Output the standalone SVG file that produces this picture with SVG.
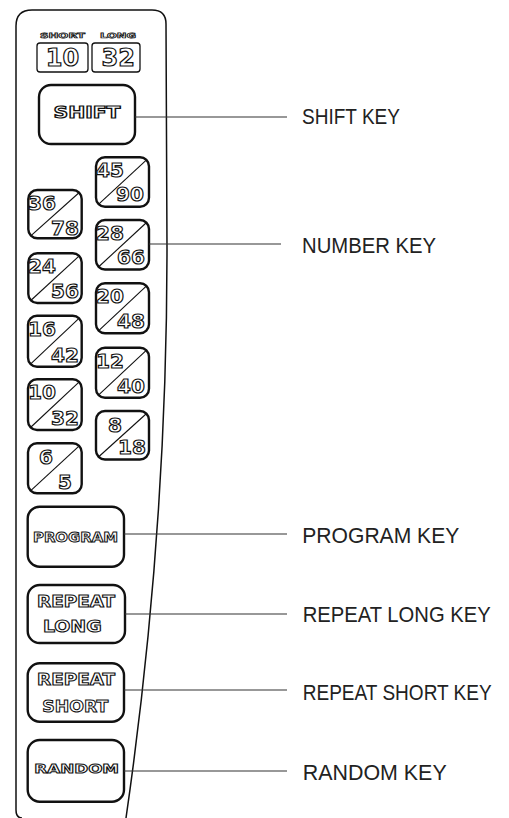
<svg xmlns="http://www.w3.org/2000/svg" width="509" height="818" viewBox="0 0 509 818">
  <style>
    .panel { fill: none; stroke: #111; stroke-width: 1.5; }
    .key { fill: #fff; stroke: #111; stroke-width: 2.4; }
    .box { fill: #fff; stroke: #111; stroke-width: 1.3; }
    .diag { stroke: #111; stroke-width: 1.1; }
    .glyph { font-family: "DejaVu Sans", "Liberation Sans", sans-serif; font-weight: bold; fill: #fff; stroke: #111; stroke-width: 1.2; text-anchor: middle; }
    .num { font-size: 20px; }
    .cap { font-size: 15px; stroke-width: 1; }
    .tiny { font-size: 7px; stroke-width: 0.7; }
    .big { font-size: 24px; stroke-width: 1.2; }
    .lead { stroke: #333; stroke-width: 1.2; fill: none; }
    .label { font-family: "Liberation Sans", Arial, sans-serif; font-size: 19px; fill: #222; }
  </style>

  <rect width="509" height="818" fill="#fff"/>

  <!-- remote control body -->
  <path class="panel" d="M22,818 Q16,818 16,810 L16,26 Q16,10 32,10 L152,10 Q166,10 166,24 L167,250 Q167,534 126,818"/>

  <!-- counter display -->
  <g id="display">
    <text class="glyph tiny" x="62.5" y="37.7" textLength="45" lengthAdjust="spacingAndGlyphs">SHORT</text>
    <text class="glyph tiny" x="118" y="37.7" textLength="36" lengthAdjust="spacingAndGlyphs">LONG</text>
    <rect class="box" x="37" y="43" width="51" height="29" rx="3"/>
    <rect class="box" x="92" y="43" width="48" height="29" rx="3"/>
    <text class="glyph big" x="62.5" y="66">10</text>
    <text class="glyph big" x="118.3" y="66">32</text>
  </g>

  <!-- shift key -->
  <g id="shift-key">
    <rect class="key" x="39" y="85" width="96" height="59" rx="12"/>
    <text class="glyph" style="font-size:16px" x="87" y="118.3" textLength="67" lengthAdjust="spacingAndGlyphs">SHIFT</text>
  </g>

  <!-- number keys, right column -->
  <g id="key-45-90">
    <rect class="key" x="96" y="157.3" width="53" height="49.5" rx="9"/>
    <line class="diag" x1="99" y1="203.8" x2="146" y2="160.3"/>
    <text class="glyph num" x="110" y="176.5">45</text>
    <text class="glyph num" x="130" y="200.5">90</text>
  </g>
  <g id="key-28-66">
    <rect class="key" x="96" y="220" width="53" height="49.5" rx="9"/>
    <line class="diag" x1="99" y1="266.5" x2="146" y2="223"/>
    <text class="glyph num" x="110" y="239.5">28</text>
    <text class="glyph num" x="131" y="264">66</text>
  </g>
  <g id="key-20-48">
    <rect class="key" x="96" y="283.3" width="53" height="50" rx="9"/>
    <line class="diag" x1="99" y1="330.3" x2="146" y2="286.3"/>
    <text class="glyph num" x="110" y="303">20</text>
    <text class="glyph num" x="131" y="328">48</text>
  </g>
  <g id="key-12-40">
    <rect class="key" x="96" y="347.7" width="53" height="50" rx="9"/>
    <line class="diag" x1="99" y1="394.7" x2="146" y2="350.7"/>
    <text class="glyph num" x="110" y="367.5">12</text>
    <text class="glyph num" x="131" y="392.5">40</text>
  </g>
  <g id="key-8-18">
    <rect class="key" x="96" y="411" width="53" height="48.5" rx="9"/>
    <line class="diag" x1="99" y1="456.5" x2="146" y2="414"/>
    <text class="glyph num" x="115" y="431.5">8</text>
    <text class="glyph num" x="132" y="453.5">18</text>
  </g>

  <!-- number keys, left column -->
  <g id="key-36-78">
    <rect class="key" x="28.3" y="190" width="53.4" height="48.3" rx="9"/>
    <line class="diag" x1="31.3" y1="235.3" x2="78.7" y2="193"/>
    <text class="glyph num" x="42" y="210">36</text>
    <text class="glyph num" x="65" y="234.5">78</text>
  </g>
  <g id="key-24-56">
    <rect class="key" x="28.3" y="253.3" width="53.4" height="49.7" rx="9"/>
    <line class="diag" x1="31.3" y1="300" x2="78.7" y2="256.3"/>
    <text class="glyph num" x="42" y="273">24</text>
    <text class="glyph num" x="65" y="298">56</text>
  </g>
  <g id="key-16-42">
    <rect class="key" x="28" y="315.7" width="53.7" height="51" rx="9"/>
    <line class="diag" x1="31" y1="363.7" x2="78.7" y2="318.7"/>
    <text class="glyph num" x="42" y="335.5">16</text>
    <text class="glyph num" x="65" y="361.5">42</text>
  </g>
  <g id="key-10-32">
    <rect class="key" x="28" y="379.3" width="53.7" height="50.7" rx="9"/>
    <line class="diag" x1="31" y1="427" x2="78.7" y2="382.3"/>
    <text class="glyph num" x="42" y="399">10</text>
    <text class="glyph num" x="65" y="425">32</text>
  </g>
  <g id="key-6-5">
    <rect class="key" x="28" y="443.3" width="53.7" height="50" rx="9"/>
    <line class="diag" x1="31" y1="490.3" x2="78.7" y2="446.3"/>
    <text class="glyph num" x="46" y="463.5">6</text>
    <text class="glyph num" x="65" y="489">5</text>
  </g>

  <!-- function keys -->
  <g id="program-key">
    <rect class="key" x="27.7" y="506.7" width="96.3" height="60" rx="12"/>
    <text class="glyph" style="font-size:14px;stroke-width:1" x="75.5" y="541.7" textLength="85" lengthAdjust="spacingAndGlyphs">PROGRAM</text>
  </g>
  <g id="repeat-long-key">
    <rect class="key" x="27.7" y="585" width="97.3" height="58" rx="12"/>
    <text class="glyph cap" x="76" y="607.3" textLength="78" lengthAdjust="spacingAndGlyphs">REPEAT</text>
    <text class="glyph cap" x="72.3" y="631.7" textLength="58.7" lengthAdjust="spacingAndGlyphs">LONG</text>
  </g>
  <g id="repeat-short-key">
    <rect class="key" x="27.7" y="663.3" width="96.3" height="58.4" rx="12"/>
    <text class="glyph cap" x="76" y="685" textLength="78" lengthAdjust="spacingAndGlyphs">REPEAT</text>
    <text class="glyph" style="font-size:16px;stroke-width:1" x="75.3" y="711.7" textLength="66" lengthAdjust="spacingAndGlyphs">SHORT</text>
  </g>
  <g id="random-key">
    <rect class="key" x="27.7" y="740" width="96.3" height="61.7" rx="12"/>
    <text class="glyph" style="font-size:13px;stroke-width:1" x="76.7" y="773" textLength="84.7" lengthAdjust="spacingAndGlyphs">RANDOM</text>
  </g>

  <!-- leader lines -->
  <g id="connectors">
    <line class="lead" x1="135" y1="117" x2="287" y2="117"/>
    <line class="lead" x1="149" y1="244" x2="281" y2="244"/>
    <line class="lead" x1="124" y1="534" x2="287" y2="534"/>
    <line class="lead" x1="125" y1="614" x2="287" y2="614"/>
    <line class="lead" x1="124" y1="690" x2="287" y2="690"/>
    <line class="lead" x1="124" y1="771" x2="287" y2="771"/>
  </g>

  <!-- callout labels, drawn slightly tall to suit the narrow typeface -->
  <g id="labels">
    <text class="label" transform="translate(302,124.3) scale(1,1.15)" textLength="98" lengthAdjust="spacingAndGlyphs">SHIFT KEY</text>
    <text class="label" transform="translate(302,252.7) scale(1,1.15)" textLength="134" lengthAdjust="spacingAndGlyphs">NUMBER KEY</text>
    <text class="label" transform="translate(302.3,543.3) scale(1,1.15)" textLength="157" lengthAdjust="spacingAndGlyphs">PROGRAM KEY</text>
    <text class="label" transform="translate(302.7,622.3) scale(1,1.15)" textLength="188" lengthAdjust="spacingAndGlyphs">REPEAT LONG KEY</text>
    <text class="label" transform="translate(302.7,700) scale(1,1.15)" textLength="189" lengthAdjust="spacingAndGlyphs">REPEAT SHORT KEY</text>
    <text class="label" transform="translate(302.7,780) scale(1,1.15)" textLength="144" lengthAdjust="spacingAndGlyphs">RANDOM KEY</text>
  </g>
</svg>
